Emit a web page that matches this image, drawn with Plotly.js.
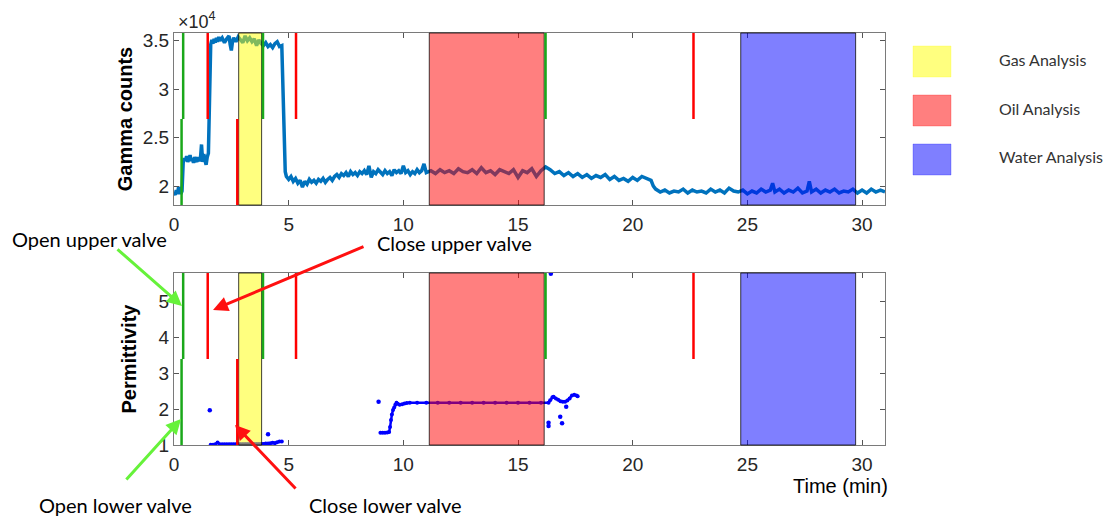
<!DOCTYPE html>
<html>
<head>
<meta charset="utf-8">
<script src="https://cdn.plot.ly/plotly-3.0.1.min.js"></script>
<style>html,body{margin:0;padding:0;background:#fff;}#chart{width:1106px;height:519px;}</style>
</head>
<body>
<div id="chart"></div>
<script>
// ---------- DATA ----------
const gammaTime = [0.00,0.05,0.10,0.15,0.20,0.25,0.30,0.35,0.40,0.45,0.50,0.55,0.60,0.65,0.70,0.75,0.80,0.85,0.90,0.95,1.00,1.05,1.10,1.15,1.20,1.25,1.30,1.35,1.40,1.45,1.50,1.55,1.60,1.65,1.70,1.75,1.80,1.85,1.90,1.95,2.00,2.10,2.20,2.30,2.40,2.45,2.50,2.55,2.60,2.70,2.80,2.90,3.00,3.10,3.20,3.30,3.40,3.50,3.60,3.70,3.80,3.90,4.00,4.10,4.20,4.30,4.40,4.50,4.60,4.70,4.75,4.80,4.85,4.90,5.00,5.10,5.20,5.30,5.40,5.50,5.60,5.70,5.80,5.90,6.00,6.10,6.20,6.30,6.40,6.50,6.60,6.70,6.80,6.90,7.00,7.10,7.20,7.30,7.40,7.50,7.60,7.70,7.80,7.90,8.00,8.10,8.20,8.30,8.40,8.50,8.60,8.70,8.80,8.90,9.00,9.10,9.20,9.30,9.40,9.50,9.60,9.70,9.80,9.90,10.00,10.10,10.20,10.30,10.40,10.50,10.60,10.70,10.80,10.90,11.00,11.20,11.40,11.60,11.80,12.00,12.20,12.40,12.60,12.80,13.00,13.20,13.40,13.60,13.80,14.00,14.20,14.40,14.60,14.80,15.00,15.20,15.40,15.60,15.80,16.00,16.20,16.40,16.60,16.80,17.00,17.20,17.40,17.60,17.80,18.00,18.20,18.40,18.60,18.80,19.00,19.20,19.40,19.60,19.80,20.00,20.20,20.40,20.60,20.80,20.90,21.00,21.20,21.40,21.60,21.80,22.00,22.20,22.40,22.60,22.80,23.00,23.20,23.40,23.60,23.80,24.00,24.20,24.40,24.60,24.80,25.00,25.20,25.40,25.60,25.80,26.00,26.10,26.20,26.40,26.60,26.80,27.00,27.20,27.40,27.60,27.70,27.80,28.00,28.20,28.40,28.60,28.80,29.00,29.20,29.40,29.60,29.80,30.00,30.20,30.40,30.60,30.80,31.00];
const gammaCounts = [19300,19100,19600,19200,19900,19400,19200,19500,22400,22900,22600,23100,22500,22800,23200,22600,22900,22400,23000,22700,22500,23000,22600,22800,24300,22500,23300,22700,22200,23000,23400,29000,34600,35100,34700,35200,34800,35300,34900,35400,35000,35300,34800,35200,35500,34600,34000,34900,35300,34900,35400,35100,34800,35500,35000,35300,34900,35200,34500,35100,34700,34500,34800,34400,34600,34300,34700,34900,34400,34500,30000,23500,21500,21000,20700,21000,20500,20800,20300,20600,19900,20500,20200,20700,20400,20600,20300,20700,20500,20800,20400,20700,20900,20600,21000,21200,20900,21300,21100,21400,21000,21500,21200,21400,21100,21500,21300,21600,21200,22100,20900,21500,21300,21700,21400,21200,21600,21300,21500,21100,21700,21400,21600,21300,22100,21400,21600,21200,21500,21300,21700,21400,21600,22300,21400,21600,21300,21700,21400,21600,21300,21800,21500,21400,21700,21300,21900,21400,21600,21200,21700,21500,21300,21700,20900,21600,21400,21800,21000,21600,22000,21700,21300,21500,21100,21400,21000,21300,20900,21200,20800,21100,20900,21200,20700,21000,20600,20800,20500,20900,20600,21000,20800,20600,20000,19700,19400,19600,19300,19500,19400,19700,19300,19600,19400,19500,19300,19700,19400,19600,19300,19800,19500,19400,19600,19200,19500,19300,19700,19400,19600,20300,19400,19700,19300,19600,19400,19800,19300,19500,20500,19400,19700,19300,19600,19400,19700,19300,19500,19400,19700,19300,19600,19300,19700,19400,19600,19400];

// permittivity: continuous stretches (null separates the two stretches)
const permTime = [1.60,1.70,1.80,1.90,2.00,2.10,2.20,2.30,2.40,2.50,2.60,2.70,2.80,2.90,3.00,3.10,3.20,3.30,3.40,3.50,3.60,3.70,3.80,3.90,4.00,4.10,4.20,4.30,4.40,4.50,4.60,4.70,null,
  9.00,9.10,9.20,9.30,9.38,9.42,9.46,9.50,9.55,9.60,9.65,9.70,9.75,9.84,9.95,10.05,10.15,10.28,10.6,11.0,11.5,12.0,12.5,13.0,13.5,14.0,14.5,15.0,15.5,16.0,16.33,16.40,16.50,16.55,16.65,16.75,16.85,16.95,17.05,17.15,17.25,17.35,17.45,17.55,17.60];
const permValue = [1.01,1.01,1.02,1.07,1.02,1.02,1.02,1.02,1.02,1.02,1.02,1.02,1.02,1.02,1.02,1.02,1.02,1.02,1.02,1.02,1.02,1.02,1.03,1.03,1.04,1.04,1.05,1.06,1.05,1.08,1.10,1.10,null,
  1.34,1.34,1.34,1.35,1.36,1.50,1.70,1.85,1.98,2.05,2.12,2.18,2.15,2.12,2.14,2.16,2.17,2.18,2.18,2.18,2.18,2.18,2.18,2.18,2.18,2.18,2.18,2.18,2.18,2.18,2.18,2.25,2.33,2.35,2.30,2.26,2.22,2.21,2.21,2.24,2.30,2.38,2.40,2.38,2.36];
// permittivity: isolated readings
const permDotTime = [1.56,4.10,8.92,16.33,16.33,16.84,16.92,17.10,16.43];
const permDotValue = [1.97,1.30,2.21,1.62,1.53,1.79,1.61,2.07,5.78];

// analysis windows
const regionNames = ['Gas Analysis','Oil Analysis','Water Analysis'];
const regionStart = [2.82, 11.13, 24.71];
const regionEnd = [3.82, 16.14, 29.72];
const regionColors = ['rgba(255,255,0,0.5)','rgba(255,0,0,0.5)','rgba(0,0,255,0.5)'];

// valve events (upper valve marks drawn in upper half, lower valve marks in lower half)
const upperValveTimes = [0.40, 1.47, 3.88, 5.32, 16.20, 22.65];
const upperValveAction = ['open','close','open','close','open','close'];
const lowerValveTimes = [0.33, 2.76];
const lowerValveAction = ['open','close'];

const gammaTickVals = [20000,25000,30000,35000];
const gammaTickText = ['2','2.5','3','3.5'];
const timeTicks = [0,5,10,15,20,25,30];

// ---------- BUILD ----------
const W = 1106, H = 519;
const px = v => v / W;
const py = v => 1 - v / H;
const openColor = '#1aa81a', closeColor = '#ff0000';
const tickFont = {family:'Liberation Sans, Arial, sans-serif', size:19, color:'#262626'};
const lineColor = '#7a7a7a';

const traces = [
  {x: gammaTime, y: gammaCounts, xaxis:'x', yaxis:'y', mode:'lines',
   line:{color:'#0072BD', width:3.5}, hoverinfo:'skip', showlegend:false},
  {x: permTime, y: permValue, xaxis:'x2', yaxis:'y2', mode:'lines+markers', connectgaps:false,
   line:{color:'#0000ff', width:2.5}, marker:{color:'#0000ff', size:4}, showlegend:false},
  {x: permDotTime, y: permDotValue, xaxis:'x2', yaxis:'y2', mode:'markers',
   marker:{color:'#0000ff', size:4.5}, cliponaxis:true, showlegend:false}
];

const shapes = [];
[['x','y domain'],['x2','y2 domain']].forEach(([xr, yr]) => {
  regionStart.forEach((s, i) => {
    shapes.push({type:'rect', xref:xr, yref:yr, x0:s, x1:regionEnd[i], y0:0, y1:1,
      fillcolor: regionColors[i], line:{color:'rgba(0,0,0,0.75)', width:1}, layer:'above'});
  });
  upperValveTimes.forEach((t, i) => {
    shapes.push({type:'line', xref:xr, yref:yr, x0:t, x1:t, y0:0.5, y1:1,
      line:{color: upperValveAction[i]==='open' ? openColor : closeColor, width:2.5}, layer:'above'});
  });
  lowerValveTimes.forEach((t, i) => {
    shapes.push({type:'line', xref:xr, yref:yr, x0:t, x1:t, y0:0, y1:0.5,
      line:{color: lowerValveAction[i]==='open' ? openColor : closeColor, width:2.5}, layer:'above'});
  });
});

// legend boxes (right side)
const legendBoxTop = [46, 95, 144];
const legendBoxH = 31;
regionNames.forEach((n, i) => {
  shapes.push({type:'rect', xref:'paper', yref:'paper', x0:px(913), x1:px(951),
    y0:py(legendBoxTop[i]+legendBoxH), y1:py(legendBoxTop[i]), fillcolor:regionColors[i],
    line:{color:regionColors[i].replace('0.5','0.25'), width:1}});
});

const annFont = {family:'Lato, Liberation Sans, sans-serif', size:20, color:'#000'};
const annotations = [
  {xref:'paper', yref:'paper', x:px(176), y:py(20), text:'×10<sup>4</sup>', showarrow:false,
   xanchor:'left', yanchor:'middle', font:{family:'Liberation Sans, Arial', size:18, color:'#262626'}},
  {xref:'paper', yref:'paper', x:px(840), y:py(486), text:'Time (min)', showarrow:false,
   xanchor:'center', yanchor:'middle', font:{family:'Liberation Sans, Arial', size:20, color:'#000'}},
  {xref:'paper', yref:'paper', x:px(89), y:py(239), text:'Open upper valve', showarrow:false,
   xanchor:'center', yanchor:'middle', font:annFont},
  {xref:'paper', yref:'paper', x:px(454), y:py(243), text:'Close upper valve', showarrow:false,
   xanchor:'center', yanchor:'middle', font:annFont},
  {xref:'paper', yref:'paper', x:px(115), y:py(505), text:'Open lower valve', showarrow:false,
   xanchor:'center', yanchor:'middle', font:annFont},
  {xref:'paper', yref:'paper', x:px(385), y:py(505), text:'Close lower valve', showarrow:false,
   xanchor:'center', yanchor:'middle', font:annFont},
  // arrows
  {xref:'paper', yref:'paper', x:px(182), y:py(306), ax:-66, ay:-58, text:'', showarrow:true,
   arrowhead:2, arrowsize:1, arrowwidth:3, arrowcolor:'#66f23a'},
  {xref:'paper', yref:'paper', x:px(213), y:py(310), ax:152, ay:-64, text:'', showarrow:true,
   arrowhead:2, arrowsize:1, arrowwidth:3, arrowcolor:'#ff1010'},
  {xref:'paper', yref:'paper', x:px(181), y:py(419), ax:-56, ay:62, text:'', showarrow:true,
   arrowhead:2, arrowsize:1, arrowwidth:3, arrowcolor:'#66f23a'},
  {xref:'paper', yref:'paper', x:px(235), y:py(425), ax:62, ay:65, text:'', showarrow:true,
   arrowhead:2, arrowsize:1, arrowwidth:3, arrowcolor:'#ff1010'}
];
const legendTextY = [60, 108, 156];
regionNames.forEach((n, i) => {
  annotations.push({xref:'paper', yref:'paper', x:px(997), y:py(legendTextY[i]), text:n,
    showarrow:false, xanchor:'left', yanchor:'middle',
    font:{family:'Lato, Liberation Sans, sans-serif', size:16, color:'#333'}});
});

const xCommon = {range:[0,31], tickvals:timeTicks, ticktext:timeTicks.map(String),
  showline:true, linecolor:lineColor, linewidth:1, mirror:'ticks', ticks:'inside',
  ticklen:5, tickcolor:'#555', tickfont:tickFont, showgrid:false, zeroline:false,
  ticklabelstandoff:2, domain:[px(174), px(885)]};

const layout = {
  width:W, height:H, margin:{l:0,r:0,t:0,b:0}, paper_bgcolor:'#fff', plot_bgcolor:'#fff',
  showlegend:false,
  xaxis: Object.assign({}, xCommon, {anchor:'y'}),
  xaxis2: Object.assign({}, xCommon, {anchor:'y2'}),
  yaxis: {domain:[py(205), py(33)], range:[18060, 35800], anchor:'x',
    tickvals:gammaTickVals, ticktext:gammaTickText, tickfont:tickFont,
    showline:true, linecolor:lineColor, mirror:'ticks', ticks:'inside', ticklen:5, tickcolor:'#555',
    showgrid:false, zeroline:false,
    title:{text:'<b>Gamma counts</b>', standoff:4,
      font:{family:'Liberation Sans, Arial', size:20, color:'#000'}}},
  yaxis2: {domain:[py(445), py(273)], range:[1, 5.8], anchor:'x2',
    tickvals:[1,2,3,4,5], tickfont:tickFont,
    showline:true, linecolor:lineColor, mirror:'ticks', ticks:'inside', ticklen:5, tickcolor:'#555',
    showgrid:false, zeroline:false,
    title:{text:'<b>Permittivity</b>', standoff:16,
      font:{family:'Liberation Sans, Arial', size:20, color:'#000'}}},
  shapes: shapes,
  annotations: annotations
};

Plotly.newPlot('chart', traces, layout, {staticPlot:true, displayModeBar:false});
</script>
</body>
</html>
